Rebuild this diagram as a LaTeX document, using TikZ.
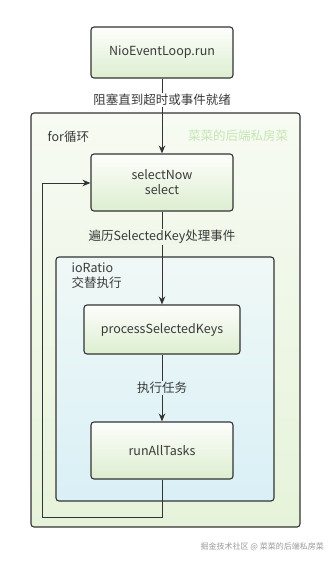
\documentclass[tikz,border=0pt]{standalone}
\usepackage{fontspec}
\setmainfont{Noto Sans CJK SC}
\usetikzlibrary{arrows.meta}
\definecolor{ink}{HTML}{333333}
\definecolor{txt}{HTML}{3A3A3A}
\definecolor{boxtop}{HTML}{FDFEFC}
\definecolor{boxbot}{HTML}{DDEED0}
\definecolor{outtop}{HTML}{F7FBF3}
\definecolor{outbot}{HTML}{E6F3DA}
\definecolor{intop}{HTML}{F0F8F6}
\definecolor{inbot}{HTML}{D9F0F6}
\definecolor{wm}{HTML}{C6E6B2}
\definecolor{wm2}{HTML}{9A9A9A}
\tikzset{
  stepbox/.style={draw=ink, line width=1.1pt, rounded corners=3pt,
    top color=boxtop, bottom color=boxbot, text=txt,
    font=\fontsize{12.5}{15}\selectfont, align=center, inner sep=0pt},
  frame/.style={draw=ink, line width=1.1pt, rounded corners=3pt},
  conn/.style={draw=ink, line width=1pt},
  arr/.style={conn, -{Stealth[length=8pt,width=6.5pt]}},
  lbl/.style={text=txt, font=\fontsize{12.5}{15}\selectfont, inner sep=1.5pt},
}
\begin{document}
\begin{tikzpicture}[x=1pt,y=-1pt]
\useasboundingbox (0,0) rectangle (333,562);
\fill[white] (0,0) rectangle (333,562);
% outer frame
\draw[frame, top color=outtop, bottom color=outbot] (31,113) rectangle (300,527);
\node[anchor=west, lbl] (forl) at (46,137) {for循环};
\node[anchor=west, text=wm, font=\fontsize{12.5}{15}\selectfont, inner sep=0pt] (wmk) at (188,136) {菜菜的后端私房菜};
% inner frame
\draw[frame, top color=intop, bottom color=inbot] (56,257) rectangle (274,501);
\node[anchor=north west, lbl, align=left] (ior) at (70,261) {ioRatio\\交替执行};
% boxes
\node[stepbox, minimum width=142pt, minimum height=51pt] (run) at (162,52.5) {NioEventLoop.run};
\node[stepbox, minimum width=142pt, minimum height=57pt] (sel) at (162,182.5) {selectNow\\select};
\node[stepbox, minimum width=156pt, minimum height=49pt] (psk) at (162,329.5) {processSelectedKeys};
\node[stepbox, minimum width=142pt, minimum height=57pt] (rat) at (162,450.5) {runAllTasks};
% connectors
\draw[arr] (run.south) -- (sel.north);
\draw[arr] (sel.south) -- (psk.north);
\draw[arr] (psk.south) -- (rat.north);
\coordinate (c1) at (162,517);
\coordinate (c2) at (42,517);
\coordinate (c3) at (42,183);
\draw[arr] (rat.south) -- (c1) -- (c2) -- (c3) -- (sel.west |- c3);
% labels
\node[lbl, fill=white] (l1) at (162,100) {阻塞直到超时或事件就绪};
\node[lbl, fill=outbot!45!outtop] (l2) at (162,237) {遍历SelectedKey处理事件};
\node[lbl, fill=inbot!60!intop] (l3) at (162,388) {执行任务};
% bottom watermark
\node[anchor=east, text=wm2, font=\fontsize{8}{10}\selectfont, inner sep=0pt] (wmb) at (324,547) {掘金技术社区 @ 菜菜的后端私房菜};
\end{tikzpicture}
\end{document}
